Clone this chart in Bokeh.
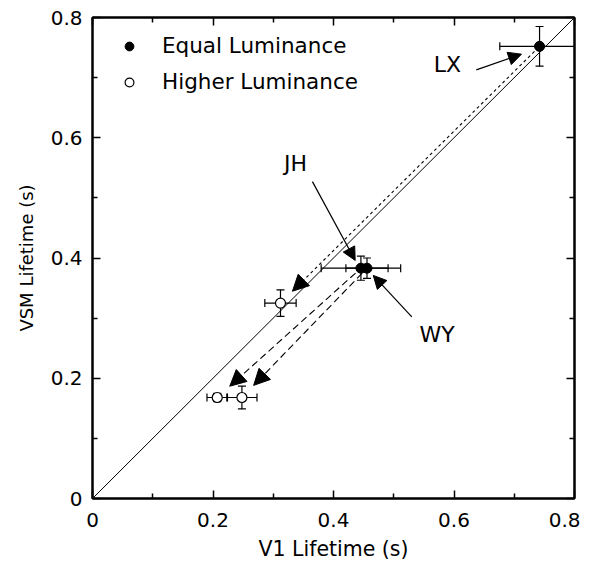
import numpy as np
from bokeh.plotting import figure
from bokeh.models import (ColumnDataSource, Arrow, NormalHead, Legend, LegendItem,
                          LinearAxis, FixedTicker, Slope, CustomJSTickFormatter)
from bokeh.core.properties import value
from bokeh.embed import file_html
from bokeh.resources import INLINE

# ---------------- data ----------------
subjects = ["LX", "JH", "WY"]
eq_x = [0.742, 0.4455, 0.4556]      # V1 lifetime, equal luminance
eq_y = [0.752, 0.383, 0.383]        # VSM lifetime, equal luminance
eq_xerr = [0.066, 0.066, 0.035]
eq_yerr = [0.033, 0.020, 0.017]
hi_x = [0.312, 0.207, 0.248]        # V1 lifetime, higher luminance
hi_y = [0.325, 0.168, 0.168]        # VSM lifetime, higher luminance
hi_xerr = [0.026, 0.017, 0.025]
hi_yerr = [0.022, 0.007, 0.019]
major_ticks = [0, 0.2, 0.4, 0.6, 0.8]
minor_ticks = [0.1, 0.3, 0.5, 0.7]

# annotation layout (label text positions and pointer arrows)
label_pos = [(0.589, 0.722), (0.337, 0.558), (0.572, 0.272)]
pointer_tail = [(0.637, 0.713), (0.365, 0.527), (0.530, 0.302)]
pointer_tip = [(0.712, 0.739), (0.436, 0.396), (0.466, 0.371)]

FONT = "DejaVu Sans"

p = figure(width=580, height=565, x_range=(0, 0.8), y_range=(0, 0.8),
           output_backend="svg", toolbar_location=None,
           min_border_left=92, min_border_right=6, min_border_top=17,
           min_border_bottom=67, x_axis_location=None, y_axis_location=None)
p.grid.visible = False
p.outline_line_color = "black"
p.outline_line_width = 2
p.background_fill_color = "white"
p.border_fill_color = "white"

ticker = FixedTicker(ticks=major_ticks, minor_ticks=minor_ticks)
fmt = CustomJSTickFormatter(code="return tick == 0 ? '0' : tick.toFixed(1);")
blank = CustomJSTickFormatter(code="return '';")


def make_axis(with_labels, title=None, standoff=8, title_standoff=10, title_size="20px"):
    ax = LinearAxis(ticker=ticker, formatter=fmt if with_labels else blank)
    ax.axis_line_width = 2
    ax.axis_line_color = "black"
    ax.major_tick_in = 8
    ax.major_tick_out = 0
    ax.minor_tick_in = 5
    ax.minor_tick_out = 0
    ax.major_tick_line_width = 1.5
    ax.minor_tick_line_width = 1.5
    ax.major_tick_line_color = "black"
    ax.minor_tick_line_color = "black"
    if with_labels:
        ax.major_label_text_font = FONT
        ax.major_label_text_font_size = "20px"
        ax.major_label_text_color = "black"
        ax.major_label_standoff = standoff
        ax.axis_label = title
        ax.axis_label_text_font = FONT
        ax.axis_label_text_font_size = title_size
        ax.axis_label_text_font_style = "normal"
        ax.axis_label_text_color = "black"
        ax.axis_label_standoff = title_standoff
    else:
        ax.major_label_text_color = None
        ax.major_label_standoff = 0
    return ax


p.add_layout(make_axis(True, "V1 Lifetime (s)", standoff=14, title_standoff=7,
                       title_size="20.5px"), "below")
p.add_layout(make_axis(True, "VSM Lifetime (s)", standoff=10, title_standoff=11,
                       title_size="18px"), "left")
p.add_layout(make_axis(False), "above")
p.add_layout(make_axis(False), "right")

# identity line
p.add_layout(Slope(gradient=1, y_intercept=0, line_color="black", line_width=1))

# ---------------- dashed arrows from equal -> higher luminance ----------------
ex, ey, hx, hy = map(np.array, (eq_x, eq_y, hi_x, hi_y))
dx, dy = ex - hx, ey - hy
d = np.hypot(dx, dy)
ux, uy = dx / d, dy / d
g_start, g_end = 0.012, 0.028
dash_styles = ["3 3", "7 4", "7 4"]
for i in range(3):
    p.add_layout(Arrow(
        x_start=ex[i] - ux[i] * g_start, y_start=ey[i] - uy[i] * g_start,
        x_end=hx[i] + ux[i] * g_end, y_end=hy[i] + uy[i] * g_end,
        line_color="black", line_width=1.1, line_dash=dash_styles[i],
        end=NormalHead(size=16, fill_color="black", line_color="black", line_width=1)))

# ---------------- error bars ----------------
def error_bars(xs, ys, xe, ye):
    xs, ys, xe, ye = map(np.array, (xs, ys, xe, ye))
    src_h = ColumnDataSource(dict(x0=xs - xe, x1=xs + xe, y=ys))
    src_v = ColumnDataSource(dict(x=xs, y0=ys - ye, y1=ys + ye))
    p.segment(x0="x0", y0="y", x1="x1", y1="y", source=src_h, line_color="black", line_width=1.2)
    p.segment(x0="x", y0="y0", x1="x", y1="y1", source=src_v, line_color="black", line_width=1.2)
    caps_x = ColumnDataSource(dict(x=np.concatenate([xs - xe, xs + xe]), y=np.concatenate([ys, ys])))
    caps_y = ColumnDataSource(dict(x=np.concatenate([xs, xs]), y=np.concatenate([ys - ye, ys + ye])))
    p.scatter("x", "y", source=caps_x, marker="dash", size=8, angle=np.pi / 2,
              line_color="black", line_width=1.2)
    p.scatter("x", "y", source=caps_y, marker="dash", size=8,
              line_color="black", line_width=1.2)


error_bars(eq_x, eq_y, eq_xerr, eq_yerr)
error_bars(hi_x, hi_y, hi_xerr, hi_yerr)

r_eq = p.scatter(eq_x, eq_y, marker="circle", size=10, fill_color="black", line_color="black")
r_hi = p.scatter(hi_x, hi_y, marker="circle", size=10, fill_color="white", line_color="black",
                 line_width=1.2)

# ---------------- subject labels and pointers ----------------
for i in range(3):
    p.add_layout(Arrow(
        x_start=pointer_tail[i][0], y_start=pointer_tail[i][1],
        x_end=pointer_tip[i][0], y_end=pointer_tip[i][1],
        line_color="black", line_width=1.2,
        end=NormalHead(size=13, fill_color="black", line_color="black", line_width=1)))

lab_src = ColumnDataSource(dict(x=[q[0] for q in label_pos], y=[q[1] for q in label_pos], t=subjects))
p.text("x", "y", text="t", source=lab_src, text_font=value(FONT), text_font_size="22px",
       text_align="center", text_baseline="middle", text_color="black")

# ---------------- legend ----------------
legend = Legend(items=[LegendItem(label="Equal Luminance", renderers=[r_eq]),
                       LegendItem(label="Higher Luminance", renderers=[r_hi])],
                location=(26, 404), orientation="vertical")
legend.glyph_width = 22
legend.glyph_height = 22
legend.label_height = 22
legend.spacing = 11
legend.padding = 0
legend.margin = 0
legend.label_standoff = 22
legend.label_text_font = FONT
legend.label_text_font_size = "21.5px"
legend.label_text_color = "black"
legend.border_line_color = None
legend.background_fill_alpha = 0
p.add_layout(legend, "center")

open("out.html", "w").write(file_html(p, INLINE))
